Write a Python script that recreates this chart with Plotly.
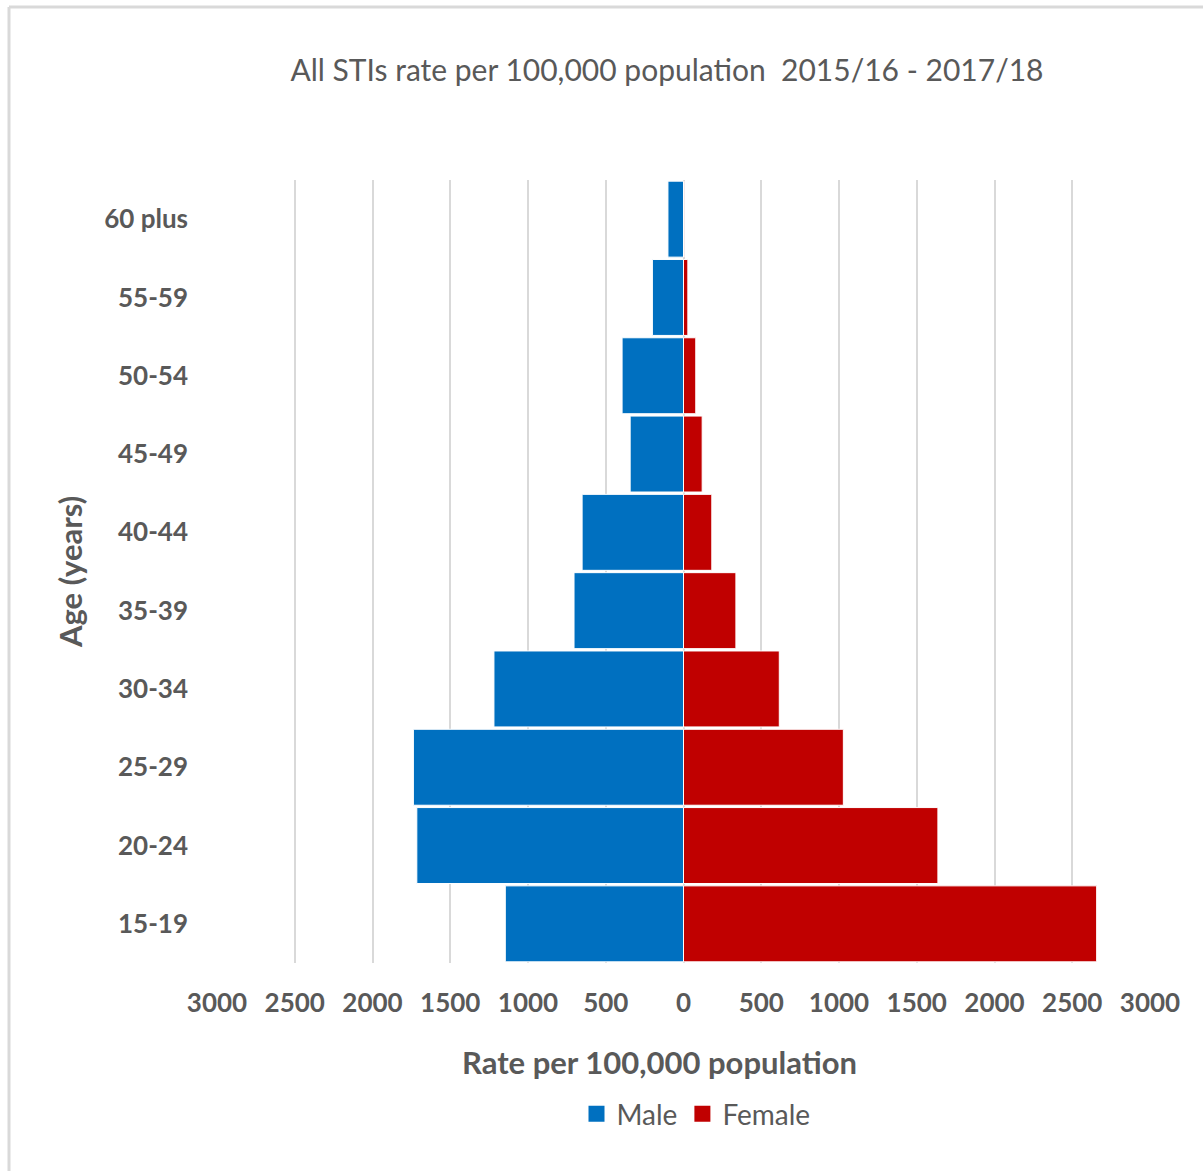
import plotly.graph_objects as go

# Age bands, bottom to top
age_groups = ["15-19", "20-24", "25-29", "30-34", "35-39", "40-44",
              "45-49", "50-54", "55-59", "60 plus"]

# All STIs rate per 100,000 population, 2015/16 - 2017/18
male_rate = [1146, 1715, 1737, 1219, 704, 652, 343, 395, 200, 100]
female_rate = [2657, 1636, 1028, 616, 337, 182, 120, 79, 28, 5]

# Symmetric axis ticks, labelled with absolute values
tick_values = [-3000, -2500, -2000, -1500, -1000, -500, 0,
               500, 1000, 1500, 2000, 2500, 3000]
tick_labels = [str(abs(v)) for v in tick_values]

MALE_COLOR = "#0070C0"
FEMALE_COLOR = "#C00000"

W, H = 1203, 1171
L, R, T, B = 217, 53, 180, 208
plot_w, plot_h = W - L - R, H - T - B

TEXT = "#595959"
GRID = "#d9d9d9"
FONT = "Lato"

fig = go.Figure()
fig.add_trace(go.Bar(
    y=age_groups, x=[-v for v in male_rate], orientation="h", name="Male",
    marker=dict(color=MALE_COLOR, line=dict(color="white", width=1)),
    customdata=male_rate, hovertemplate="%{y}: %{customdata}<extra>Male</extra>",
    showlegend=False,
))
fig.add_trace(go.Bar(
    y=age_groups, x=female_rate, orientation="h", name="Female",
    marker=dict(color=FEMALE_COLOR, line=dict(color="white", width=1)),
    hovertemplate="%{y}: %{x}<extra>Female</extra>",
    showlegend=False,
))
# Legend entries with larger square keys
for name, color in [("Male", MALE_COLOR), ("Female", FEMALE_COLOR)]:
    fig.add_trace(go.Scatter(
        x=[None], y=[None], mode="markers", name=name,
        marker=dict(symbol="square", size=19, color=color),
        hoverinfo="skip",
    ))


def px_x(p):
    return (p - L) / plot_w


def px_y(p):
    return 1 - (p - T) / plot_h


fig.update_layout(
    width=W, height=H,
    margin=dict(l=L, r=R, t=T, b=B),
    paper_bgcolor="white", plot_bgcolor="white",
    barmode="relative", bargap=0.03,
    font=dict(family=FONT, color=TEXT, size=24),
    title=dict(
        text="All STIs rate per 100,000 population  2015/16 - 2017/18",
        x=667 / W, xanchor="center", y=1 - 70 / H, yanchor="middle",
        yref="container", font=dict(family=FONT, size=30, color=TEXT),
    ),
    xaxis=dict(
        range=[-3000, 3000], tickvals=tick_values, ticktext=tick_labels,
        showgrid=True, gridcolor=GRID, gridwidth=2,
        zeroline=True, zerolinecolor=GRID, zerolinewidth=2,
        showline=False, ticks="",
        tickfont=dict(family=FONT, size=26, color=TEXT, weight="bold"),
        ticklabelstandoff=22,
        fixedrange=True,
    ),
    yaxis=dict(
        showgrid=False, showline=False, ticks="",
        tickfont=dict(family=FONT, size=26, color=TEXT, weight="bold"),
        ticklabelstandoff=28,
        fixedrange=True,
    ),
    legend=dict(
        orientation="h", x=696 / W, xanchor="center", xref="container",
        y=1 - 1114 / H, yanchor="middle", yref="container",
        font=dict(family=FONT, size=28, color=TEXT),
        itemwidth=30, tracegroupgap=0,
    ),
    annotations=[
        dict(text="<b>Rate per 100,000 population</b>",
             xref="paper", yref="paper", x=px_x(659), y=px_y(1062),
             xanchor="center", yanchor="middle", showarrow=False,
             font=dict(family=FONT, size=31, color=TEXT)),
        dict(text="<b>Age (years)</b>", textangle=-90,
             xref="paper", yref="paper", x=px_x(70), y=px_y(572),
             xanchor="center", yanchor="middle", showarrow=False,
             font=dict(family=FONT, size=31, color=TEXT)),
    ],
    shapes=[
        dict(type="line", xref="paper", yref="paper",
             x0=px_x(9), x1=px_x(1203), y0=px_y(7), y1=px_y(7),
             line=dict(color=GRID, width=3)),
        dict(type="line", xref="paper", yref="paper",
             x0=px_x(9), x1=px_x(9), y0=px_y(7), y1=px_y(1171),
             line=dict(color=GRID, width=3)),
    ],
)

fig.write_html("out.html")
